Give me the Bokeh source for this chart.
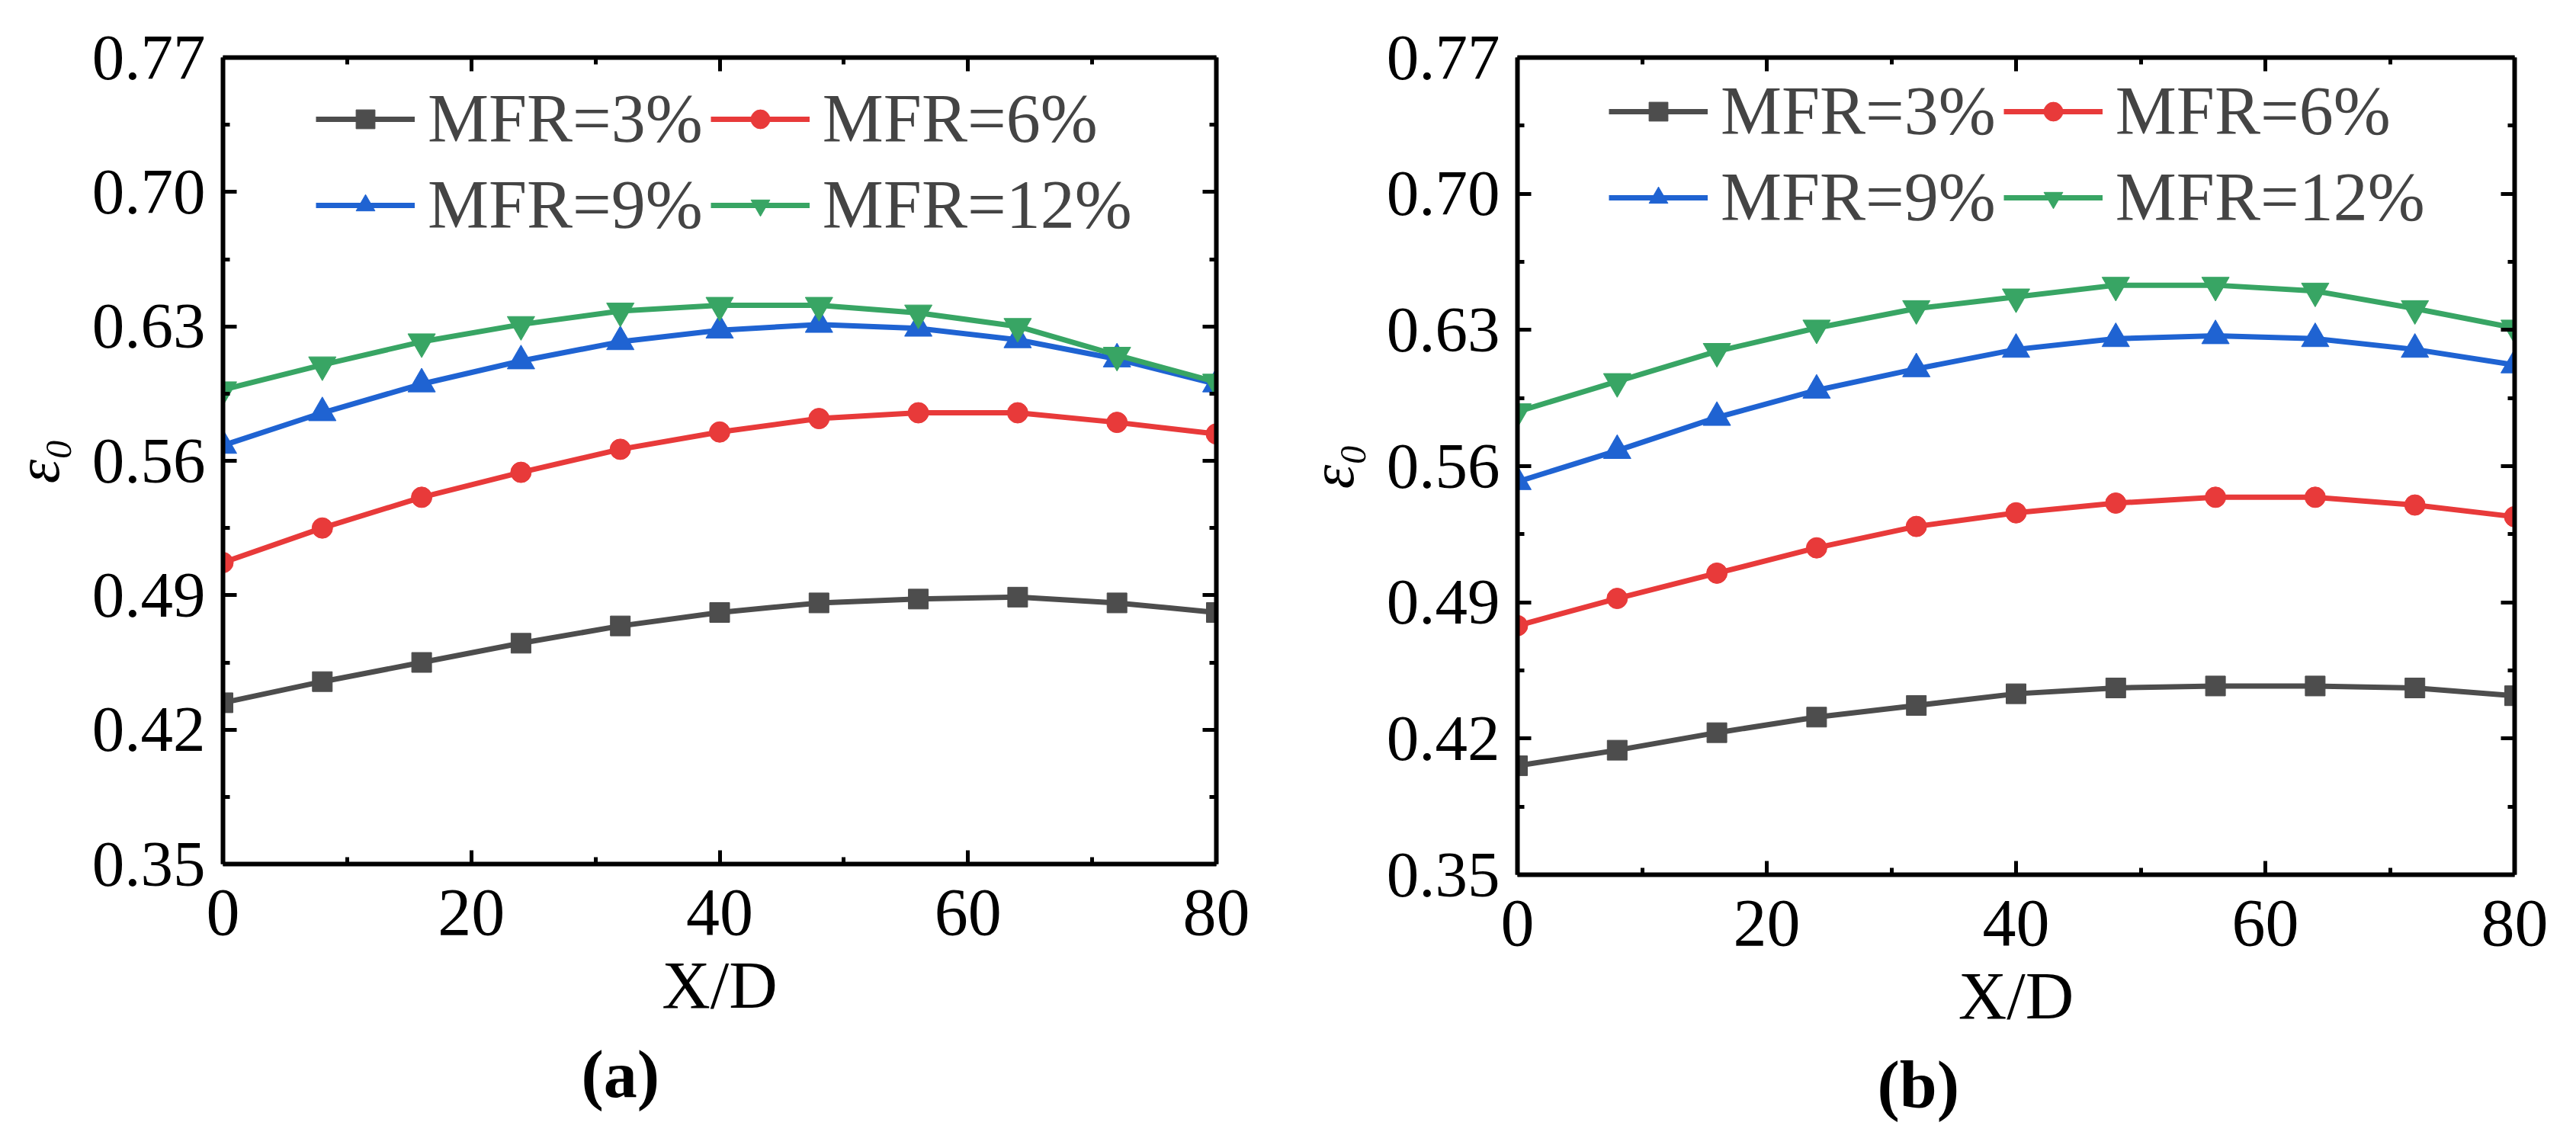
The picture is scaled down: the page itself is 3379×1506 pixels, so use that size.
from bokeh.plotting import figure
from bokeh.models import (LinearAxis, FixedTicker, NumeralTickFormatter, Legend,
                          LegendItem, Title, CustomJSTickFormatter, Range1d)
from bokeh.layouts import row
from bokeh.embed import file_html
from bokeh.resources import INLINE

# ---------------- data ----------------
x_over_d = [0, 8, 16, 24, 32, 40, 48, 56, 64, 72, 80]

series_labels = ["MFR=3%", "MFR=6%", "MFR=9%", "MFR=12%"]

a_mfr3 = [0.434, 0.445, 0.455, 0.465, 0.474, 0.481, 0.486, 0.488, 0.489, 0.486, 0.481]
a_mfr6 = [0.507, 0.525, 0.541, 0.554, 0.566, 0.575, 0.582, 0.585, 0.585, 0.580, 0.574]
a_mfr9 = [0.568, 0.585, 0.600, 0.612, 0.622, 0.628, 0.631, 0.629, 0.623, 0.613, 0.600]
a_mfr12 = [0.597, 0.610, 0.622, 0.631, 0.638, 0.641, 0.641, 0.637, 0.630, 0.615, 0.601]

b_mfr3 = [0.406, 0.414, 0.423, 0.431, 0.437, 0.443, 0.446, 0.447, 0.447, 0.446, 0.442]
b_mfr6 = [0.478, 0.492, 0.505, 0.518, 0.529, 0.536, 0.541, 0.544, 0.544, 0.540, 0.534]
b_mfr9 = [0.552, 0.568, 0.585, 0.599, 0.610, 0.620, 0.6255, 0.627, 0.6255, 0.620, 0.612]
b_mfr12 = [0.588, 0.6035, 0.619, 0.631, 0.641, 0.647, 0.653, 0.653, 0.650, 0.641, 0.631]

x_major = [0, 20, 40, 60, 80]
x_minor = [10, 30, 50, 70]
y_major = [0.35, 0.42, 0.49, 0.56, 0.63, 0.70, 0.77]
y_minor = [0.385, 0.455, 0.525, 0.595, 0.665, 0.735]

# ---------------- styles ----------------
colors = ["#4d4d4d", "#e83a3a", "#1f63d2", "#38a564"]
markers = ["square", "circle", "triangle", "inverted_triangle"]
msizes = [26, 27, 36, 36]
FONT = "Liberation Serif"


def style_axis(ax, show_labels):
    ax.axis_line_color = "black"
    ax.axis_line_width = 6
    ax.major_tick_line_color = "black"
    ax.minor_tick_line_color = "black"
    ax.major_tick_line_width = 5
    ax.minor_tick_line_width = 5
    ax.major_tick_in = 18
    ax.major_tick_out = 0
    ax.minor_tick_in = 9
    ax.minor_tick_out = 0
    ax.major_label_text_font = FONT
    ax.major_label_text_color = "black"
    ax.axis_label_text_font = FONT
    ax.axis_label_text_color = "black"
    ax.axis_label_text_font_style = "normal"
    if not show_labels:
        ax.formatter = CustomJSTickFormatter(code="return ''")
        ax.major_label_text_font_size = "2px"
        ax.major_label_standoff = 0


def make_panel(ys, frame_w, frame_h, borders, leg_xy, caption, cap_offset):
    bl, br, bt, bb = borders
    p = figure(frame_width=frame_w, frame_height=frame_h,
               x_range=Range1d(0, 80), y_range=Range1d(0.35, 0.77),
               output_backend="svg", toolbar_location=None,
               min_border_left=bl, min_border_right=br,
               min_border_top=bt, min_border_bottom=bb,
               x_axis_label="X/D", y_axis_label="ε₀")
    p.outline_line_color = None
    p.xgrid.visible = False
    p.ygrid.visible = False
    p.background_fill_color = "white"
    p.border_fill_color = "white"

    xt = FixedTicker(ticks=x_major, minor_ticks=x_minor)
    yt = FixedTicker(ticks=y_major, minor_ticks=y_minor)

    xa = p.xaxis[0]
    ya = p.yaxis[0]
    xa.ticker = xt
    ya.ticker = yt
    ya.formatter = NumeralTickFormatter(format="0.00")
    style_axis(xa, True)
    style_axis(ya, True)
    xa.major_label_text_font_size = "88px"
    ya.major_label_text_font_size = "85px"
    xa.axis_label_text_font_size = "88px"
    ya.axis_label_text_font_size = "80px"
    ya.axis_label_text_font_style = "italic"
    xa.major_label_standoff = 34
    ya.major_label_standoff = 23
    xa.axis_label_standoff = 15
    ya.axis_label_standoff = 24

    top = LinearAxis(ticker=xt)
    right = LinearAxis(ticker=yt)
    style_axis(top, False)
    style_axis(right, False)
    p.add_layout(top, "above")
    p.add_layout(right, "right")

    items = []
    for i, yv in enumerate(ys):
        ln = p.line(x_over_d, yv, line_color=colors[i], line_width=7)
        sc = p.scatter(x_over_d, yv, marker=markers[i], size=msizes[i],
                       fill_color=colors[i], line_color=colors[i])
        items.append(LegendItem(label=series_labels[i], renderers=[ln, sc]))

    legend = Legend(items=items, location=leg_xy, orientation="horizontal",
                    ncols=2, nrows=2,
                    label_text_font=FONT, label_text_font_size="90px",
                    glyph_width=130, glyph_height=62, label_standoff=17,
                    spacing=10, padding=0, margin=0,
                    border_line_color=None, background_fill_alpha=0)
    p.add_layout(legend)

    cap = Title(text="(" + caption + ")", align="left", offset=cap_offset,
                standoff=30, text_font=FONT, text_font_size="88px",
                text_font_style="bold", text_color="black")
    p.add_layout(cap, "below")
    return p


pa = make_panel([a_mfr3, a_mfr6, a_mfr9, a_mfr12], 1303, 1058,
                (292, 97, 75, 357), (122, 813), "a", 470)
pb = make_panel([b_mfr3, b_mfr6, b_mfr9, b_mfr12], 1308, 1072,
                (298, 65, 70, 348), (120, 837), "b", 472)

layout = row(pa, pb)
open("out.html", "w").write(file_html(layout, INLINE))
